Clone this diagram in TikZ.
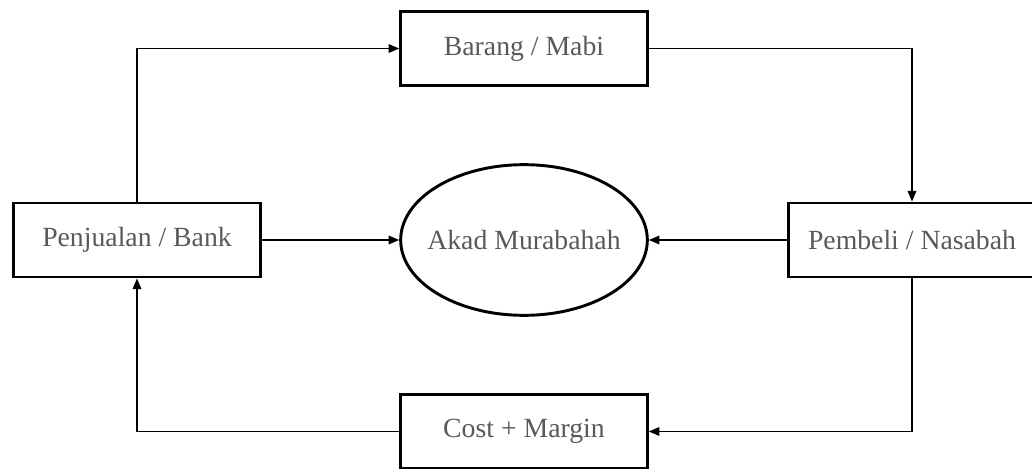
\documentclass[tikz,border=0pt]{standalone}
\usepackage{fontspec}
\setmainfont{Liberation Serif}
\usepackage{xcolor}
\definecolor{labelgray}{HTML}{595959}
\usetikzlibrary{positioning,shapes,arrows.meta}

\begin{document}
\begin{tikzpicture}[
x=0.75pt, y=-0.75pt,
party/.style={rectangle, draw=black, line width=2.2pt, minimum width=185pt, minimum height=55.5pt, text=labelgray, font=\fontsize{20.8}{24}\selectfont},
contract/.style={ellipse, draw=black, line width=2.2pt, minimum width=185pt, minimum height=113pt, inner xsep=-20pt, inner ysep=0pt, text=labelgray, font=\fontsize{20.8}{24}\selectfont},
flow/.style={draw=black, line width=1.1pt, -{Triangle[length=8pt,width=6.5pt]}},
]
\useasboundingbox (0,0) rectangle (1032,468);
\clip (0,0) rectangle (1032,468);

\node[party] (bank) at (137,240) {Penjualan / Bank};
\node[party] (barang) at (524,48.5) {Barang / Mabi};
\node[contract] (akad) at (524,240) {Akad Murabahah};
\node[party] (nasabah) at (912,240) {Pembeli / Nasabah};
\node[party] (cost) at (524,431.5) {Cost + Margin};

\draw [flow] (bank.north) |- (barang.west);
\draw [flow] (barang.east) -| (nasabah.north);
\draw [flow] (bank.east) -- (akad.west);
\draw [flow] (nasabah.west) -- (akad.east);
\draw [flow] (nasabah.south) |- (cost.east);
\draw [flow] (cost.west) -| (bank.south);

\end{tikzpicture}
\end{document}
